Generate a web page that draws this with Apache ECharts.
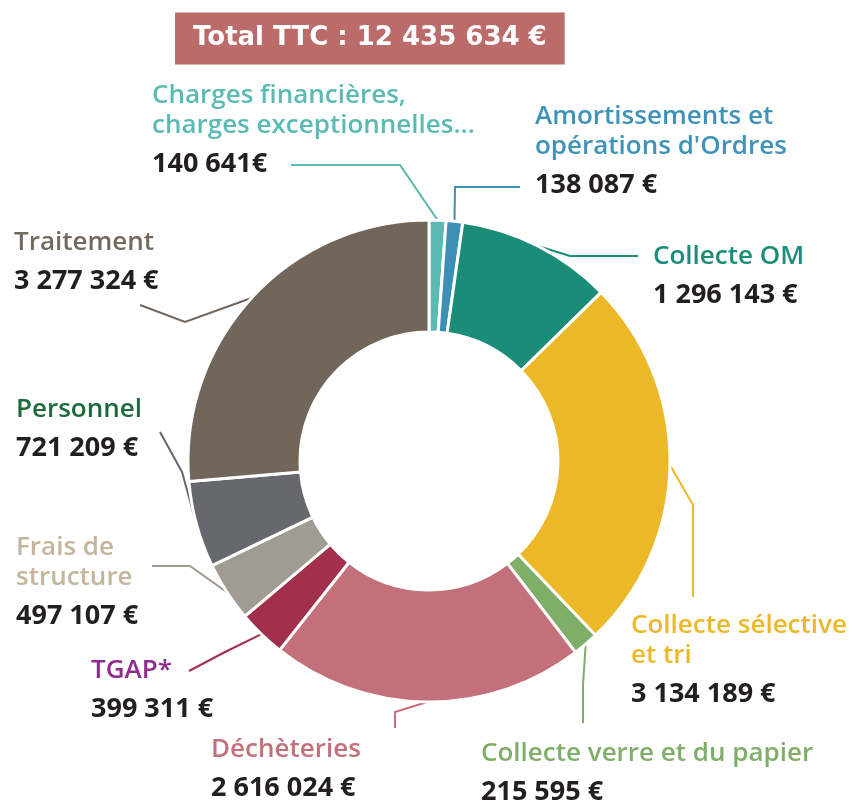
<!DOCTYPE html>
<html>
<head>
<meta charset="utf-8">
<script src="https://cdn.jsdelivr.net/npm/echarts@6/dist/echarts.min.js"></script>
<style>
html, body { margin: 0; padding: 0; background: #fff; }
#chart { width: 852px; height: 803px; }
</style>
</head>
<body>
<div id="chart"></div>
<script>
// postes de dépenses (sens horaire, depuis le haut)
var postes = [
    'Charges financières,\ncharges exceptionnelles...',
    'Amortissements et\nopérations d\'Ordres',
    'Collecte OM',
    'Collecte sélective\net tri',
    'Collecte verre et du papier',
    'Déchèteries',
    'TGAP*',
    'Frais de\nstructure',
    'Personnel',
    'Traitement'
];
var montants = [140641, 138087, 1296143, 3134189, 215595, 2616024, 399311, 497107, 721209, 3277324];
var montantsTexte = ['140 641€', '138 087 €', '1 296 143 €', '3 134 189 €', '215 595 €',
    '2 616 024 €', '399 311 €', '497 107 €', '721 209 €', '3 277 324 €'];
var totalTTC = '12 435 634 €';

var couleurs = ['#5cbab5', '#3d8fb6', '#1a8c77', '#edb828', '#7fae69',
    '#c4707a', '#a2304d', '#a09b93', '#67686d', '#72665a'];
var couleursTexte = ['#5cbab5', '#3f92b8', '#1a8c77', '#edb828', '#7fae69',
    '#c4707a', '#8f2b8c', '#c4b59c', '#1d6b3c', '#73695d'];

// position des étiquettes + coudes des traits
var etiquettes = [
    {x: 152, y: 81,  coude: [[400, 165], [291, 165]]},
    {x: 535, y: 102, coude: [[455, 187], [520, 187]]},
    {x: 653, y: 242, coude: [[570, 256], [638, 256]]},
    {x: 631, y: 611, coude: [[693, 505], [693, 597]]},
    {x: 481, y: 739, coude: [[583, 685], [583, 723]]},
    {x: 211, y: 735, coude: [[395, 712], [395, 728]]},
    {x: 91,  y: 656, coude: [[225, 652], [189, 671]]},
    {x: 16,  y: 533, coude: [[190, 566], [152, 566]]},
    {x: 16,  y: 395, coude: [[182, 472], [160, 432]]},
    {x: 14,  y: 228, coude: [[185, 322], [140, 305]]}
];

function echartDonut(){
    var dom = document.getElementById('chart');
    var myChart = echarts.init(dom);

    var data = [];
    for (var i = 0; i < postes.length; i++) {
        data.push({
            name: postes[i],
            value: montants[i],
            itemStyle: {color: couleurs[i]},
            labelLine: {lineStyle: {color: couleurs[i], width: 2}},
            label: {
                rich: {
                    n: {fontFamily: 'Open Sans', fontWeight: 600, fontSize: 26, lineHeight: 30, color: couleursTexte[i]},
                    v: {fontFamily: 'Open Sans', fontWeight: 700, fontSize: 27, lineHeight: 46, color: '#231f20'}
                }
            }
        });
    }

    var option = {
        backgroundColor: '#fff',
        animation: false,
        title: {
            text: '{a|Total TTC : }{b|' + totalTTC + '}',
            left: 175,
            top: 10,
            padding: [13, 18],
            backgroundColor: '#bc6b6b',
            textStyle: {
                rich: {
                    a: {fontFamily: 'DejaVu Sans', fontWeight: 'bold', fontSize: 26, lineHeight: 31, color: '#fff'},
                    b: {fontFamily: 'DejaVu Sans', fontWeight: 'bold', fontSize: 26, lineHeight: 31, color: '#fff'}
                }
            }
        },
        series: [
            {
                name: 'Dépenses',
                type: 'pie',
                center: [429, 461],
                radius: [129, 241],
                startAngle: 90,
                clockwise: true,
                avoidLabelOverlap: false,
                itemStyle: {borderColor: '#fff', borderWidth: 3},
                label: {
                    show: true,
                    position: 'outside',
                    formatter: function (p) {
                        var lignes = p.name.split('\n');
                        var s = [];
                        for (var k = 0; k < lignes.length; k++) {
                            s.push('{n|' + lignes[k] + '}');
                        }
                        s.push('{v|' + montantsTexte[p.dataIndex] + '}');
                        return s.join('\n');
                    }
                },
                labelLine: {show: true, length: 10, length2: 10},
                labelLayout: function (params) {
                    var e = etiquettes[params.dataIndex];
                    var p0 = params.labelLinePoints ? params.labelLinePoints[0] : e.coude[0];
                    return {
                        x: e.x,
                        y: e.y,
                        align: 'left',
                        verticalAlign: 'top',
                        labelLinePoints: [p0, e.coude[0], e.coude[1]]
                    };
                },
                data: data
            }
        ]
    };
    myChart.setOption(option, true);
}

echartDonut();
</script>
</body>
</html>
